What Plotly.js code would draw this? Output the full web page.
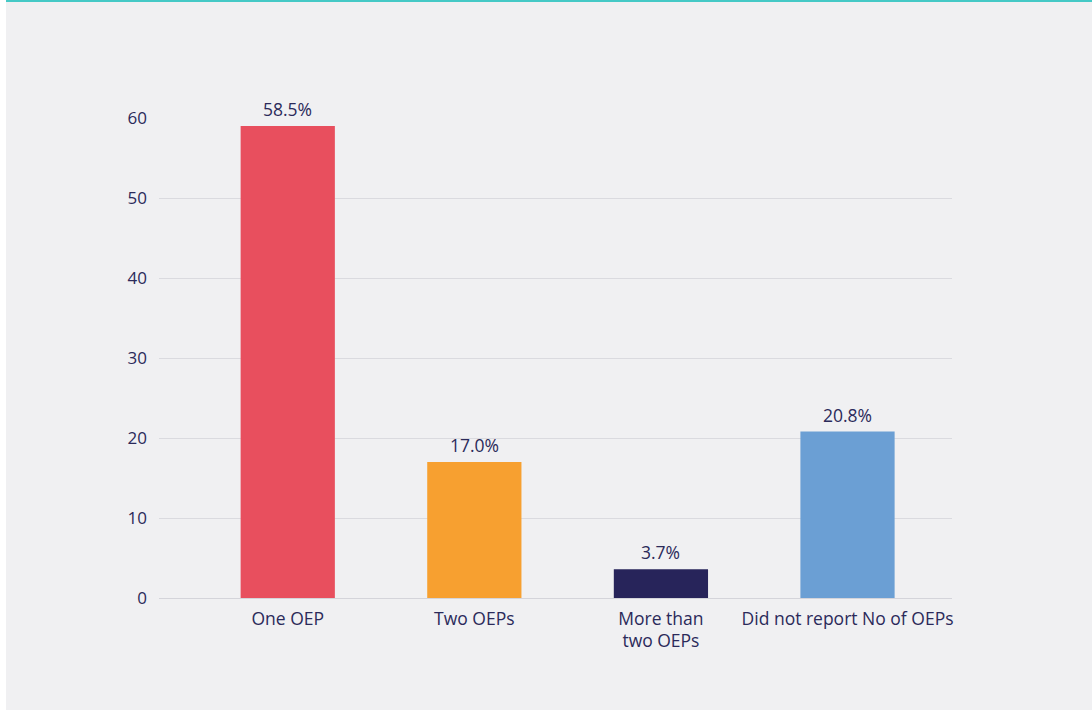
<!DOCTYPE html>
<html>
<head>
<meta charset="utf-8">
<script src="https://cdn.plot.ly/plotly-3.0.1.min.js"></script>
<style>
  html, body { margin: 0; padding: 0; background: #ffffff; width: 1092px; height: 715px; overflow: hidden; }
  #frame { position: absolute; left: 6px; top: 0; width: 1086px; height: 710px; background: #f0f0f2; }
  #chart { position: absolute; left: 0; top: 0; width: 1086px; height: 710px; }
  #topline { position: absolute; left: 6px; top: 0; width: 1086px; height: 2px; background: #45c9c6; }
</style>
</head>
<body>
<div id="frame"><div id="chart"></div></div>
<div id="topline"></div>
<script>
const categories = ["One OEP", "Two OEPs", "More than<br>two OEPs", "Did not report No of OEPs"];
const barValues = [59.0, 17.0, 3.6, 20.8];
const valueLabels = ["58.5%", "17.0%", "3.7%", "20.8%"];
const barColors = ["#e84f5e", "#f7a030", "#27245a", "#6b9fd4"];
const yTicks = [0, 10, 20, 30, 40, 50, 60];

const textColor = "#2b2a5a";
const fontFamily = "'Open Sans', 'Noto Sans', sans-serif";

const trace = {
  type: "bar",
  x: categories,
  y: barValues,
  marker: { color: barColors, line: { width: 0 } },
  width: 0.505,
  hoverinfo: "none"
};

const annotations = categories.map((c, i) => ({
  x: c, y: barValues[i], xref: "x", yref: "y",
  text: valueLabels[i], showarrow: false,
  yanchor: "bottom", yshift: 3,
  font: { family: fontFamily, size: 17.5, color: textColor }
}));

const layout = {
  width: 1086, height: 710,
  paper_bgcolor: "rgba(0,0,0,0)",
  plot_bgcolor: "rgba(0,0,0,0)",
  margin: { l: 153, r: 140, t: 118, b: 112 },
  showlegend: false,
  font: { family: fontFamily, size: 17.5, color: textColor },
  xaxis: {
    type: "category",
    range: [-0.69, 3.56],
    showgrid: false, zeroline: false, showline: false,
    ticks: "", ticklabelstandoff: 8,
    tickfont: { family: fontFamily, size: 17.5, color: textColor },
    fixedrange: true
  },
  yaxis: {
    range: [0, 60],
    tickvals: yTicks,
    ticktext: yTicks.map(String),
    showgrid: true, gridcolor: "#dadadf", gridwidth: 1,
    zeroline: true, zerolinecolor: "#d4d4da", zerolinewidth: 1,
    showline: false, ticks: "", ticklabelstandoff: 11,
    tickfont: { family: fontFamily, size: 17, color: textColor },
    fixedrange: true
  },
  annotations: annotations
};

Plotly.newPlot("chart", [trace], layout, { displayModeBar: false, staticPlot: true });
</script>
</body>
</html>
